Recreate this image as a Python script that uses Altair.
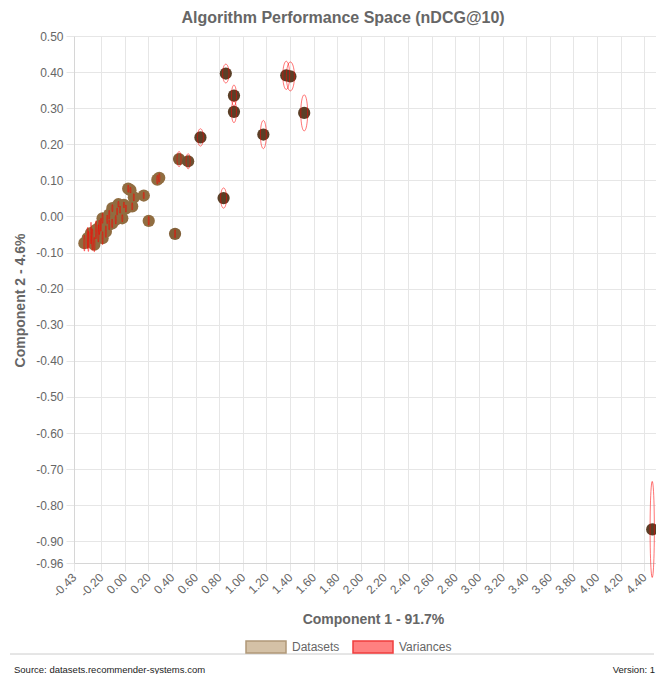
import altair as alt
import pandas as pd

title_text = "Algorithm Performance Space (nDCG@10)"
x_title = "Component 1 - 91.7%"
y_title = "Component 2 - 4.6%"
source_text = "Source: datasets.recommender-systems.com"
version_text = "Version: 1"
legend_labels = ["Datasets", "Variances"]

# point centres (component 1, component 2) and variance half-extents
pc1 = [0.856, 0.925, 0.925, 1.368, 1.403, 1.520, 1.174, 0.641, 0.460, 0.537, 0.837, 0.426, 4.468,
       0.276, 0.292, 0.029, 0.048, 0.077, 0.161, 0.063, 0.203, -0.007, -0.054, -0.105, -0.021,
       -0.076, -0.132, -0.188, -0.202, -0.244, -0.286, -0.314, -0.342, -0.258, -0.160, -0.132,
       -0.188, -0.308, -0.065, -0.149, -0.224, -0.275, -0.107, -0.040, 0.010, -0.216]
pc2 = [0.396, 0.335, 0.290, 0.391, 0.388, 0.287, 0.227, 0.219, 0.159, 0.153, 0.051, -0.048, -0.867,
       0.102, 0.107, 0.077, 0.073, 0.053, 0.058, 0.028, -0.012, 0.032, 0.034, 0.023, -0.005,
       -0.009, 0.005, -0.005, -0.023, -0.037, -0.046, -0.060, -0.074, -0.078, -0.042, -0.023,
       -0.060, -0.069, 0.014, -0.008, -0.047, -0.064, -0.019, 0.019, 0.022, -0.030]
var1 = [0.027, 0.021, 0.021, 0.029, 0.034, 0.029, 0.025, 0.025, 0.017, 0.017, 0.025, 0.004, 0.018,
        0.005, 0.005, 0.004, 0.004, 0.004, 0.004, 0.004, 0.004, 0.004, 0.004, 0.004, 0.004,
        0.004, 0.004, 0.004, 0.004, 0.005, 0.005, 0.005, 0.005, 0.005, 0.004, 0.004,
        0.004, 0.005, 0.004, 0.004, 0.005, 0.005, 0.004, 0.004, 0.004, 0.005]
var2 = [0.026, 0.029, 0.030, 0.039, 0.040, 0.050, 0.039, 0.024, 0.021, 0.021, 0.028, 0.011, 0.133,
        0.012, 0.012, 0.010, 0.008, 0.010, 0.009, 0.010, 0.012, 0.008, 0.008, 0.010, 0.010,
        0.012, 0.012, 0.014, 0.018, 0.025, 0.030, 0.030, 0.022, 0.020, 0.016, 0.014,
        0.018, 0.028, 0.010, 0.012, 0.024, 0.030, 0.012, 0.010, 0.010, 0.020]

x_ticks = [-0.43, -0.2, 0.0, 0.2, 0.4, 0.6, 0.8, 1.0, 1.2, 1.4, 1.6, 1.8, 2.0, 2.2, 2.4, 2.6,
           2.8, 3.0, 3.2, 3.4, 3.6, 3.8, 4.0, 4.2, 4.4]
y_ticks = [-0.96, -0.9, -0.8, -0.7, -0.6, -0.5, -0.4, -0.3, -0.2, -0.1, 0.0, 0.1, 0.2, 0.3,
           0.4, 0.5]

FONT = "Liberation Sans"
GREY = "#666666"

df = pd.DataFrame({"id": list(range(len(pc1))), "pc1": pc1, "pc2": pc2,
                   "var1": var1, "var2": var2})
legend_df = pd.DataFrame({"series": legend_labels})
footer_df = pd.DataFrame({"src": [source_text], "ver": [version_text]})

label_expr = "replace(format(datum.value, '.2f'), '\u2212', '-')"

x_scale = alt.Scale(domain=[-0.43, 4.50], nice=False, zero=False)
y_scale = alt.Scale(domain=[-0.96, 0.5], nice=False, zero=False)

x_axis = alt.Axis(values=x_ticks, tickCount=60, labelExpr=label_expr, labelAngle=-45,
                  labelAlign="right", labelBaseline="middle", labelPadding=4, tickSize=8,
                  title=x_title, labelOverlap=False, labelFlush=False,
                  titleX=299, titleY=56, titleBaseline="middle", titleAlign="center")
y_axis = alt.Axis(values=y_ticks, tickCount=60, labelExpr=label_expr, tickSize=8, labelPadding=3,
                  labelOverlap=False, labelFlush=False,
                  title=y_title, titleX=-54, titleY=264, titleBaseline="middle",
                  titleAlign="center", titleAngle=-90)

points = alt.Chart(df).mark_circle(size=150, opacity=1).encode(
    x=alt.X("pc1:Q", scale=x_scale, axis=x_axis, title=x_title),
    y=alt.Y("pc2:Q", scale=y_scale, axis=y_axis, title=y_title),
    color=alt.Color("pc1:Q", scale=alt.Scale(domain=[0.35, 0.65], range=["#906d41", "#5a3f27"],
                                             clamp=True), legend=None),
)

ellipses = alt.Chart(df).transform_calculate(
    k="sequence(0, 49)"
).transform_flatten(["k"]).transform_calculate(
    ex="datum.pc1 + datum.var1 * cos(datum.k * PI / 24)",
    ey="datum.pc2 + datum.var2 * sin(datum.k * PI / 24)",
).mark_line(stroke="#ff0000", strokeOpacity=0.55, strokeWidth=1).encode(
    x=alt.X("ex:Q", scale=x_scale, title=x_title),
    y=alt.Y("ey:Q", scale=y_scale, title=y_title),
    detail="id:N",
    order="k:Q",
)

leg = alt.Legend(title=None, orient="none", legendX=171, legendY=590, direction="horizontal",
                 symbolType="M-1,-0.3H1V0.3H-1Z", symbolSize=1600, symbolStrokeWidth=1.5,
                 symbolOpacity=1, labelFontSize=12, labelColor=GREY, labelFont=FONT,
                 labelOffset=5, columnPadding=10, padding=0)

legend_layer = alt.Chart(legend_df).mark_point(filled=True, size=0).encode(
    fill=alt.Fill("series:N", scale=alt.Scale(domain=legend_labels,
                                              range=["#d4c1a6", "#ff8080"]), legend=leg),
    stroke=alt.Stroke("series:N", scale=alt.Scale(domain=legend_labels,
                                                  range=["#b09878", "#f03c3c"]), legend=leg),
)

footer_rule = alt.Chart(footer_df).mark_rule(color="#cccccc", strokeWidth=1).encode(
    x=alt.value(-64), x2=alt.value(580), y=alt.value(618)
)
footer_src = alt.Chart(footer_df).mark_text(align="left", baseline="middle", font=FONT,
                                            fontSize=9.5, color="#222222").encode(
    x=alt.value(-60), y=alt.value(634), text="src:N"
)
footer_ver = alt.Chart(footer_df).mark_text(align="right", baseline="middle", font=FONT,
                                            fontSize=9.5, color="#222222").encode(
    x=alt.value(581), y=alt.value(634), text="ver:N"
)

chart = alt.layer(points, ellipses, legend_layer, footer_rule, footer_src, footer_ver).properties(
    width=582, height=527,
    title=alt.TitleParams(title_text, fontSize=16, font=FONT, fontWeight="bold", color=GREY,
                          anchor="middle", dx=-22, offset=4),
    autosize=alt.AutoSizeParams(type="none"),
    padding={"left": 66, "top": 28, "right": 0, "bottom": 111},
).configure_view(stroke=None).configure_axis(
    gridColor="#e6e6e6", tickColor="#e6e6e6", domainColor="#d6d6d6",
    labelColor=GREY, labelFont=FONT, labelFontSize=12,
    titleColor=GREY, titleFont=FONT, titleFontSize=14, titleFontWeight="bold",
).resolve_scale(fill="independent", stroke="independent")

chart.save("out.html", embed_options={"renderer": "svg", "actions": False})
